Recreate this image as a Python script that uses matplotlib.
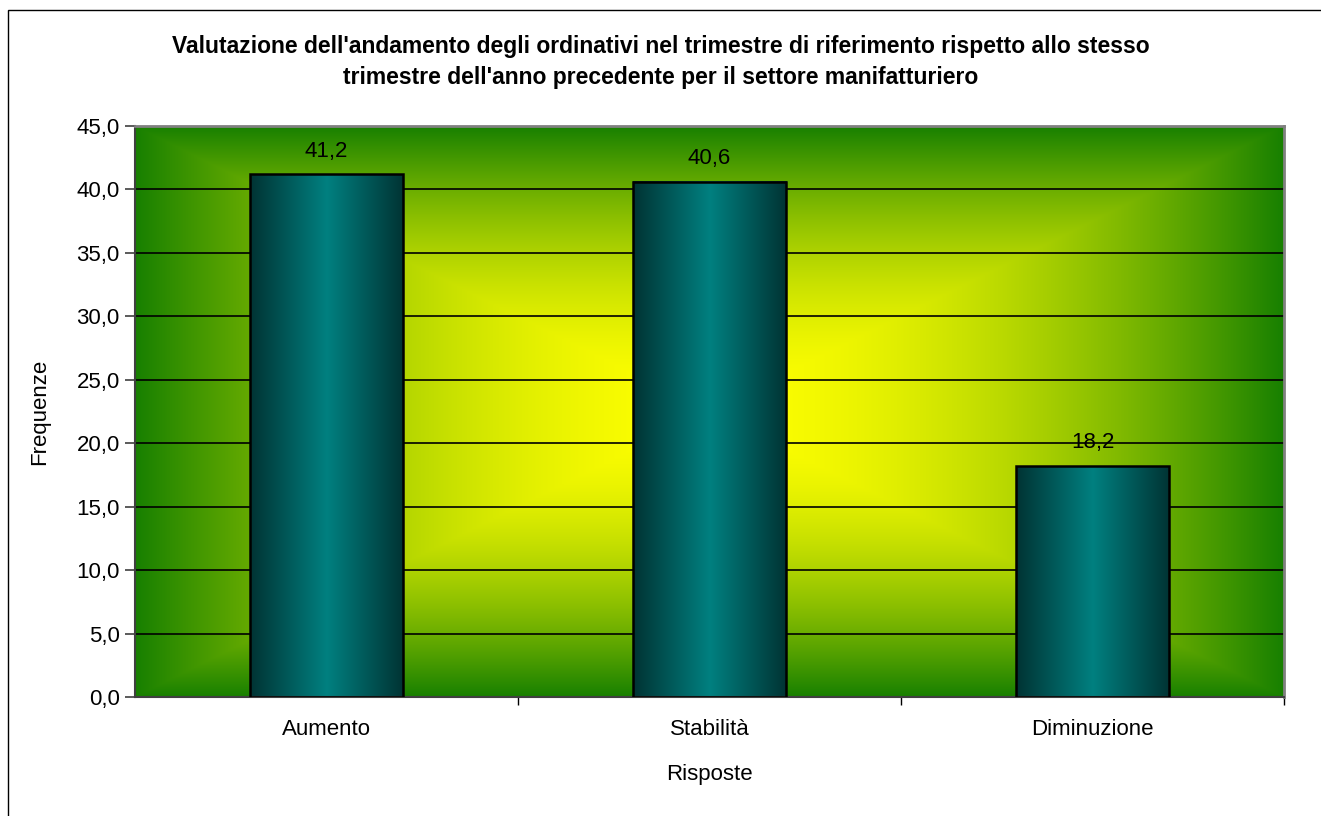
import numpy as np
import matplotlib
matplotlib.use('Agg')
import matplotlib.pyplot as plt
from matplotlib.patches import Rectangle
from matplotlib.ticker import MultipleLocator, FuncFormatter

plt.rcParams['font.family'] = ['Liberation Sans', 'DejaVu Sans']

# data
categorie = ['Aumento', 'Stabilità', 'Diminuzione']
frequenze = [41.2, 40.6, 18.2]
titolo = ("Valutazione dell'andamento degli ordinativi nel trimestre di riferimento rispetto allo stesso\n"
          "trimestre dell'anno precedente per il settore manifatturiero")

fig = plt.figure(figsize=(13.21, 8.16), dpi=100)
ax = fig.add_axes([135/1321, 1-697/816, (1284-135)/1321, (697-126)/816])

# background: rectangular gradient from center (yellow -> green)
n = 400
u = np.linspace(-1, 1, n)
U, V = np.meshgrid(u, u)
t = np.maximum(np.abs(U), np.abs(V)) ** 1.8
giallo = np.array([1.0, 1.0, 0.0])
verde = np.array([0x18/255, 0x80/255, 0.0])
bg = giallo[None, None, :]*(1-t[..., None]) + verde[None, None, :]*t[..., None]
ax.imshow(bg, extent=(0, 1, 0, 1), transform=ax.transAxes, aspect='auto',
          zorder=0.1, interpolation='bilinear')

x = np.arange(len(categorie))
bars = ax.bar(x, frequenze, width=0.4, facecolor='none', edgecolor='black',
              linewidth=1.8, zorder=3)

# horizontal gradient inside each bar
g = np.abs(np.linspace(-1, 1, 200))
teal = np.array([0.0, 0x80/255, 0x80/255])
scuro = np.array([0.0, 0x33/255, 0x33/255])
bar_img = teal[None, :]*(1-g[:, None]) + scuro[None, :]*g[:, None]
bar_img = bar_img[None, :, :]
for b in bars:
    ax.imshow(bar_img, extent=(b.get_x(), b.get_x()+b.get_width(), 0, b.get_height()),
              aspect='auto', zorder=2.5, interpolation='bilinear')

for b, v in zip(bars, frequenze):
    ax.text(b.get_x()+b.get_width()/2, v+1.0, f"{v:.1f}".replace('.', ','),
            ha='center', va='bottom', fontsize=16)

ax.set_xlim(-0.5, 2.5)
ax.set_ylim(0, 45)
ax.yaxis.set_major_locator(MultipleLocator(5))
ax.yaxis.set_major_formatter(FuncFormatter(lambda v, p: f"{v:.1f}".replace('.', ',')))
ax.grid(axis='y', color='black', linewidth=1.2)
ax.set_axisbelow(True)

ax.set_xticks(x)
ax.set_xticklabels(categorie, fontsize=16)
ax.set_xticks([0.5, 1.5, 2.5], minor=True)
ax.tick_params(axis='x', which='major', length=0, pad=16)
ax.tick_params(axis='x', which='minor', length=6, color='black', width=1)
ax.tick_params(axis='y', labelsize=16, length=7, color='#404040', width=1.2, pad=4)

ax.spines['top'].set_color('#808080')
ax.spines['right'].set_color('#808080')
ax.spines['top'].set_linewidth(2)
ax.spines['right'].set_linewidth(2)
ax.spines['left'].set_color('#404040')
ax.spines['left'].set_linewidth(1.5)
ax.spines['bottom'].set_color('#404040')
ax.spines['bottom'].set_linewidth(1.5)

ax.set_xlabel('Risposte', fontsize=16, labelpad=17)
ax.set_ylabel('Frequenze', fontsize=16, labelpad=19)

fig.text(0.5, 1-62/816, titolo, ha='center', va='center', fontsize=16.5,
         fontweight='bold', linespacing=1.45)

fig.add_artist(Rectangle((8/1321, -0.1), 1.2, 1.1-10/816, transform=fig.transFigure,
                         fill=False, edgecolor='black', linewidth=1))

fig.savefig('out.png', dpi=100)
